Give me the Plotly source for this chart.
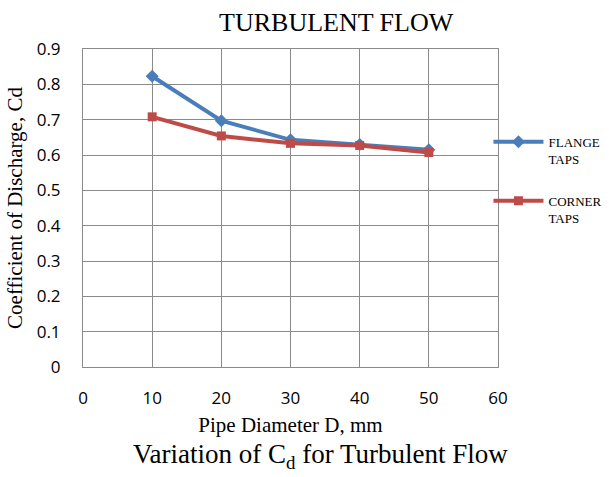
import plotly.graph_objects as go

# Pipe diameter (mm) and measured discharge coefficients
diameter = [10, 20, 30, 40, 50]
cd_flange = [0.823, 0.697, 0.643, 0.630, 0.615]
cd_corner = [0.708, 0.654, 0.633, 0.627, 0.607]

x_ticks = [0, 10, 20, 30, 40, 50, 60]
y_ticks = [0, 0.1, 0.2, 0.3, 0.4, 0.5, 0.6, 0.7, 0.8, 0.9]
y_tick_text = ["0", "0.1", "0.2", "0.3", "0.4", "0.5", "0.6", "0.7", "0.8", "0.9"]

serif = "Liberation Serif, Times New Roman, serif"
sans = "Open Sans, Carlito, Calibri, sans-serif"
grid = "#8a8a8a"

fig = go.Figure()
fig.add_trace(go.Scatter(
    x=diameter, y=cd_flange, mode="lines+markers", name="FLANGE<br>TAPS",
    legendgroup="flange",
    line=dict(color="#4A7EBB", width=4),
    marker=dict(symbol="diamond", size=10, color="#4A7EBB"),
))
fig.add_trace(go.Scatter(
    x=diameter, y=cd_corner, mode="lines+markers", name="CORNER<br>TAPS",
    legendgroup="corner",
    line=dict(color="#BE4B48", width=4),
    marker=dict(symbol="square", size=9, color="#BE4B48"),
))

fig.update_layout(
    width=609, height=477,
    margin=dict(l=83, r=111, t=49, b=110, autoexpand=False),
    paper_bgcolor="white", plot_bgcolor="white",
    title=dict(text="TURBULENT FLOW", x=0.552, xanchor="center", y=0.955, yanchor="middle",
               font=dict(family=serif, size=26, color="black")),
    legend=dict(x=0.977, xanchor="left", y=0.755, yanchor="top", valign="top",
                font=dict(family=serif, size=13, color="black"),
                tracegroupgap=22, itemwidth=50, bgcolor="rgba(0,0,0,0)"),
    showlegend=True,
    xaxis=dict(range=[0, 60], tickvals=x_ticks, showgrid=True, gridcolor=grid, gridwidth=1,
               showline=True, linecolor=grid, linewidth=1, mirror=True, zeroline=False,
               ticks="", ticklabelstandoff=16, automargin=False,
               tickfont=dict(family=sans, size=17, color="black"),
               title=dict(text="Pipe Diameter D, mm", font=dict(family=serif, size=21, color="black"), standoff=8)),
    yaxis=dict(range=[0, 0.9], tickvals=y_ticks, ticktext=y_tick_text, showgrid=True, gridcolor=grid, gridwidth=1,
               showline=True, linecolor=grid, linewidth=1, mirror=True, zeroline=False,
               ticks="", ticklabelstandoff=18, automargin=False,
               tickfont=dict(family=sans, size=17, color="black"),
               title=dict(text="Coefficient of Discharge, Cd", font=dict(family=serif, size=21, color="black"), standoff=8)),
)

fig.add_annotation(text="Variation of C<sub>d</sub> for Turbulent Flow", xref="paper", yref="paper",
                   x=0.573, y=-0.28, xanchor="center", yanchor="middle", showarrow=False,
                   font=dict(family=serif, size=27, color="black"))

fig.write_html("out.html")
